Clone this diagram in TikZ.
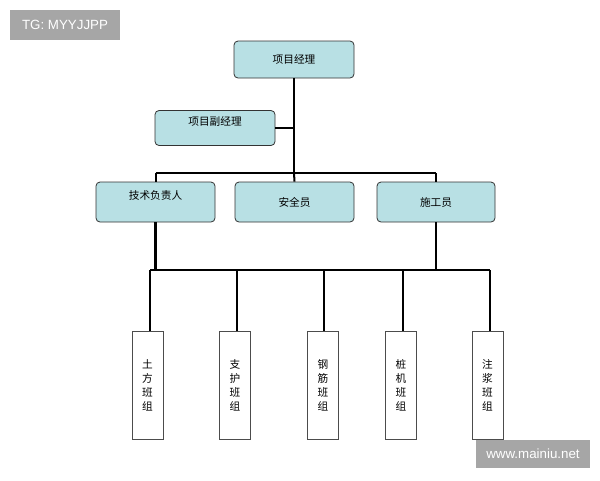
\documentclass[tikz,border=0pt]{standalone}
\usepackage{fontspec}
\newfontfamily\cjk{Noto Sans CJK SC}
\setmainfont{Liberation Sans}
\definecolor{boxfill}{RGB}{184,224,228}
\definecolor{wm}{RGB}{166,166,166}
\begin{document}
\begin{tikzpicture}[x=0.75pt,y=-0.75pt,
  tbox/.style={draw=black!80,fill=boxfill,rounded corners=3pt,line width=0.6pt,font=\cjk\fontsize{8}{10}\selectfont,inner sep=0pt},
  vbox/.style={draw=black!70,fill=white,line width=0.6pt,font=\cjk\fontsize{8}{10.5}\selectfont,inner sep=0pt,align=center},
  ln/.style={line width=1.5pt},
  wmk/.style={fill=wm,text=white,font=\fontsize{10}{12}\selectfont,inner sep=0pt}]
\useasboundingbox (0,0) rectangle (600,480);
\fill[white] (0,0) rectangle (600,480);
% watermarks
\node[wmk,minimum width=110*0.75pt,minimum height=30*0.75pt] (w1) at (65,25) {TG: MYYJJPP};
\node[wmk,minimum width=114*0.75pt,minimum height=28*0.75pt] (w2) at (533,454) {www.mainiu.net};
% boxes
\node[tbox,minimum width=120*0.75pt,minimum height=37*0.75pt] (pm) at (294,59.5) {项目经理};
\node[tbox,minimum width=120*0.75pt,minimum height=35*0.75pt] (dpm) at (215,128) {};
\node[font=\cjk\fontsize{8}{10}\selectfont] (dpmt) at (215,121) {项目副经理};
\node[tbox,minimum width=119*0.75pt,minimum height=40*0.75pt] (tech) at (155.5,202) {};
\node[font=\cjk\fontsize{8}{10}\selectfont] (techt) at (155.5,195) {技术负责人};
\node[tbox,minimum width=119*0.75pt,minimum height=40*0.75pt] (safe) at (294.5,202) {安全员};
\node[tbox,minimum width=118*0.75pt,minimum height=40*0.75pt] (cons) at (436,202) {施工员};
% team boxes
\foreach \n/\x/\t in {t1/147.5/土\\方\\班\\组, t2/235/支\\护\\班\\组, t3/323/钢\\筋\\班\\组, t4/401/桩\\机\\班\\组, t5/487.5/注\\浆\\班\\组}{
  \node[vbox,minimum width=31*0.75pt,minimum height=108*0.75pt] (\n) at (\x,385) {\t};
}
% coordinates
\coordinate (j1) at (294,128);
\coordinate (b0) at (294,173);
\coordinate (bl) at (155.5,173);
\coordinate (br) at (436,173);
\coordinate (hl) at (150,270);
\coordinate (hr) at (490,270);
\draw[ln] (pm.south) -- (b0);
\draw[ln] (dpm.east) -- (j1);
\draw[ln] (bl) -- (br);
\draw[ln] (bl) -- (tech.north);
\draw[ln] (b0) -- (safe.north);
\draw[ln] (br) -- (cons.north);
\draw[ln,line width=2pt] (tech.south) -- (tech.south |- hl);
\draw[ln] (cons.south) -- (cons.south |- hl);
\draw[ln,line width=1.8pt] (hl) -- (hr);
\draw[ln] (hl) -- (150,331);
\draw[ln] (237,270) -- (237,331);
\draw[ln] (324,270) -- (324,331);
\draw[ln] (403,270) -- (403,331);
\draw[ln] (hr) -- (490,331);
\end{tikzpicture}
\end{document}
